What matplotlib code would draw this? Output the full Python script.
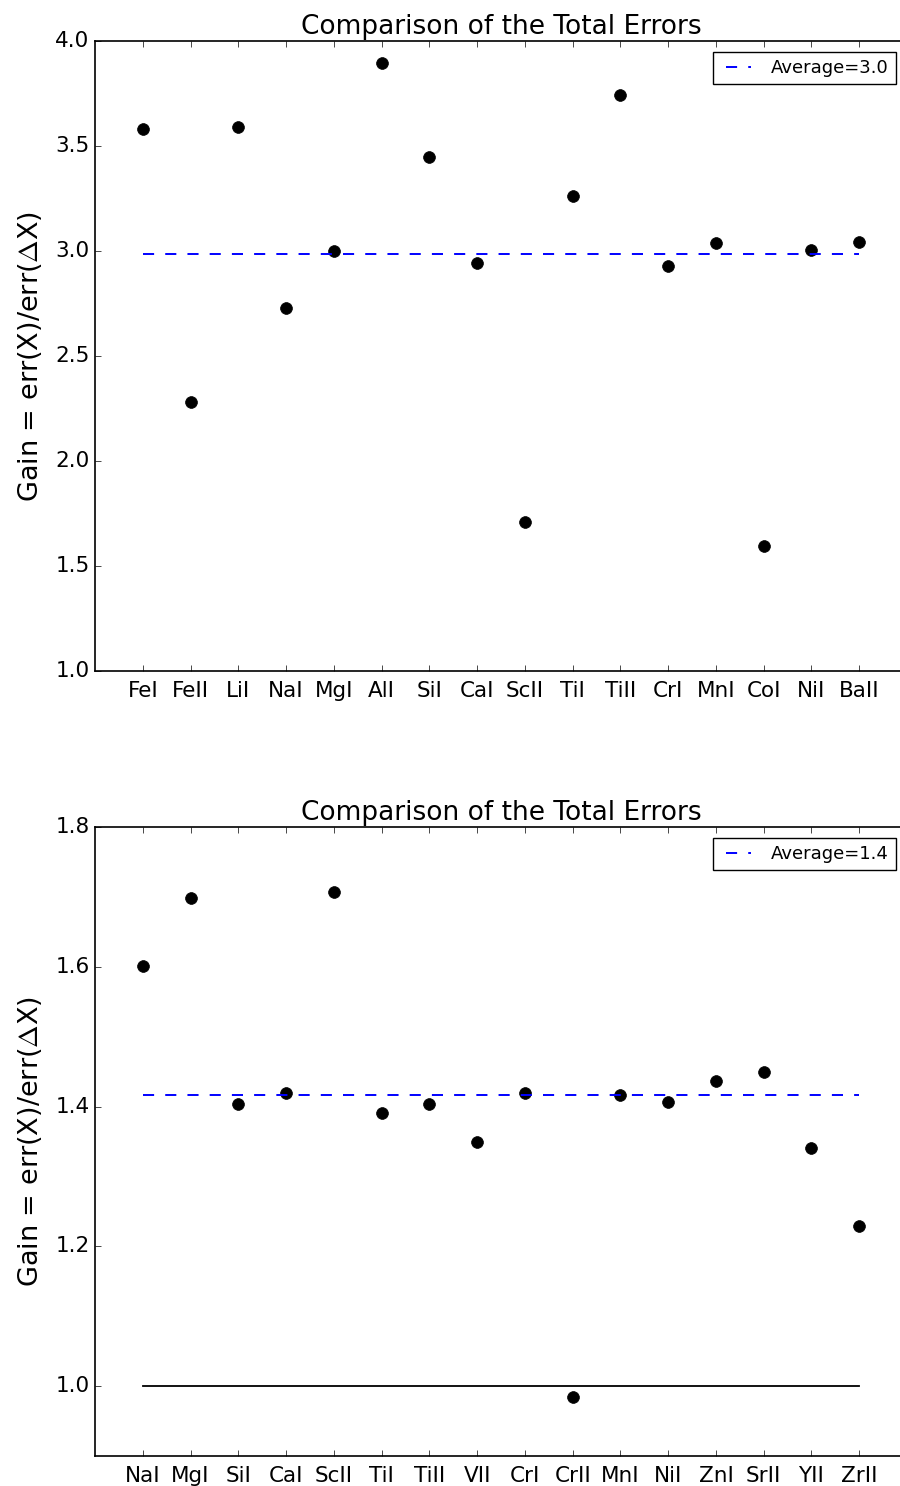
import numpy as np
import matplotlib
matplotlib.use('Agg')
import matplotlib.pyplot as plt

plt.style.use('classic')

# gain per element, first set
elems_top = ['FeI', 'FeII', 'LiI', 'NaI', 'MgI', 'AlI', 'SiI', 'CaI',
             'ScII', 'TiI', 'TiII', 'CrI', 'MnI', 'CoI', 'NiI', 'BaII']
gain_top = [3.58, 2.28, 3.59, 2.73, 3.00, 3.895, 3.448, 2.943,
            1.71, 3.262, 3.743, 2.929, 3.038, 1.595, 3.005, 3.043]

# gain per element, second set
elems_bot = ['NaI', 'MgI', 'SiI', 'CaI', 'ScII', 'TiI', 'TiII', 'VII',
             'CrI', 'CrII', 'MnI', 'NiI', 'ZnI', 'SrII', 'YII', 'ZrII']
gain_bot = [1.601, 1.699, 1.404, 1.42, 1.707, 1.391, 1.403, 1.349,
            1.419, 0.984, 1.416, 1.407, 1.437, 1.449, 1.34, 1.229]

fig = plt.figure(figsize=(9, 14.86), dpi=100, facecolor='white')

ax1 = fig.add_axes([95/900, 1 - 671/1486, 812/900, 630/1486])
ax2 = fig.add_axes([95/900, 1 - 1456/1486, 812/900, 629/1486])


def gain_panel(ax, names, gains, ylim, yticks, unity=False):
    x = np.arange(1, len(names) + 1)
    avg = np.mean(gains)
    ax.plot(x, gains, 'o', color='k', markersize=8.5, markeredgecolor='k')
    ax.plot(x, [avg] * len(x), '--', color='b', lw=1.4, dashes=(8, 8),
            label='Average=%.1f' % avg)
    if unity:
        ax.plot(x, [1.0] * len(x), '-', color='k', lw=1.3)
    ax.set_xlim(0, len(names) + 1)
    ax.set_ylim(*ylim)
    ax.set_yticks(yticks)
    ax.set_xticks(x)
    ax.set_xticklabels(names, fontsize=15.5)
    ax.tick_params(axis='y', labelsize=15.5)
    ax.tick_params(axis='x', pad=7)
    for s in ax.spines.values():
        s.set_linewidth(1.2)
    ax.set_title('Comparison of the Total Errors', fontsize=19)
    ax.set_ylabel(r'Gain = err(X)/err($\Delta$X)', fontsize=19.5, labelpad=8)
    ax.legend(loc='upper right', fontsize=13, numpoints=2,
              handlelength=2.0, borderaxespad=0.6)


gain_panel(ax1, elems_top, gain_top, (1.0, 4.0), np.arange(1.0, 4.01, 0.5))
gain_panel(ax2, elems_bot, gain_bot, (0.9, 1.8), [1.0, 1.2, 1.4, 1.6, 1.8], unity=True)

fig.savefig('out.png', dpi=100, facecolor='white')
